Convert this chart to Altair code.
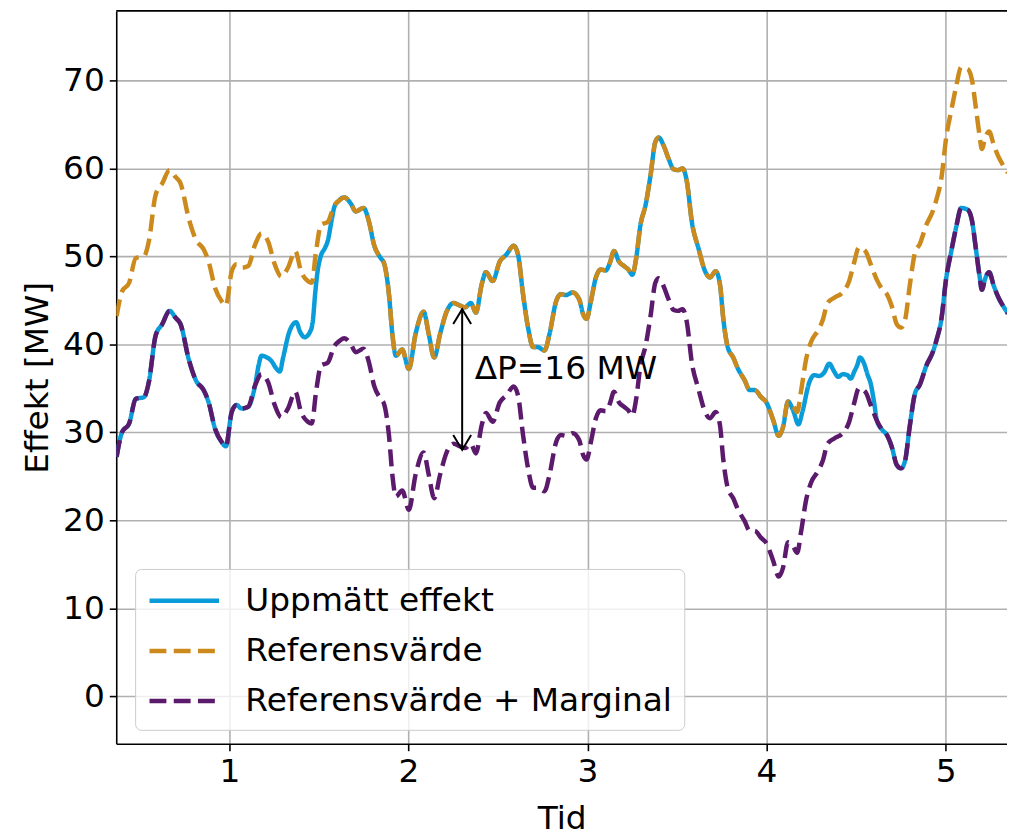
import altair as alt
import pandas as pd

# ---- data ----
t_ref = [0.37, 0.40, 0.44, 0.477, 0.523, 0.55, 0.588, 0.625, 0.666, 0.70, 0.727, 0.773, 0.813, 0.856,
         0.884, 0.92, 0.957, 0.98, 1.013, 1.04, 1.068, 1.105, 1.143, 1.179, 1.216, 1.253, 1.29, 1.327,
         1.368, 1.40, 1.438, 1.46, 1.484, 1.512, 1.549, 1.586, 1.61, 1.642, 1.678, 1.706, 1.749, 1.78,
         1.808, 1.845, 1.864, 1.891, 1.91, 1.93, 1.965, 2.002, 2.04, 2.085, 2.113, 2.144, 2.177, 2.215,
         2.252, 2.288, 2.316, 2.348, 2.377, 2.409, 2.433, 2.47, 2.51, 2.547, 2.588, 2.612, 2.64, 2.668,
         2.696, 2.72, 2.76, 2.788, 2.825, 2.852, 2.88, 2.917, 2.954, 2.976, 2.995, 3.019, 3.047, 3.074,
         3.102, 3.124, 3.148, 3.176, 3.204, 3.228, 3.25, 3.272, 3.296, 3.324, 3.352, 3.379, 3.398, 3.425,
         3.453, 3.481, 3.505, 3.531, 3.555, 3.583, 3.62, 3.657, 3.684, 3.716, 3.74, 3.758, 3.783, 3.814,
         3.841, 3.878, 3.906, 3.934, 3.97, 3.999, 4.037, 4.068, 4.092, 4.12, 4.147, 4.171, 4.193, 4.221,
         4.249, 4.285, 4.313, 4.341, 4.378, 4.424, 4.46, 4.488, 4.516, 4.552, 4.58, 4.617, 4.645, 4.672,
         4.70, 4.727, 4.751, 4.773, 4.80, 4.829, 4.856, 4.893, 4.93, 4.948, 4.976, 5.004, 5.031, 5.059,
         5.087, 5.123, 5.147, 5.169, 5.188, 5.203, 5.22, 5.243, 5.27, 5.298, 5.326, 5.348]

referens = [43.2, 46.0, 47.0, 49.8, 50.0, 51.7, 57.0, 58.3, 59.8, 59.0, 58.3, 54.3, 51.9, 50.8,
            49.4, 46.4, 44.9, 44.4, 48.3, 49.1, 48.7, 48.9, 51.3, 52.6, 51.7, 49.1, 47.7, 48.7,
            50.6, 48.3, 47.2, 47.0, 50.6, 53.6, 53.9, 55.8, 56.3, 56.7, 56.0, 55.1, 55.5, 53.9,
            51.3, 49.8, 49.2, 45.7, 41.2, 38.7, 39.4, 37.2, 41.2, 43.7, 41.2, 38.5, 41.2, 43.8,
            44.7, 44.4, 44.2, 44.7, 43.6, 46.8, 48.2, 47.2, 49.4, 50.2, 51.2, 50.2, 45.7, 41.9,
            39.7, 39.7, 39.3, 41.2, 44.9, 45.7, 45.6, 45.9, 45.1, 43.4, 42.9, 44.9, 47.6, 48.5,
            48.4, 49.2, 50.6, 49.4, 48.9, 48.5, 47.9, 49.8, 53.6, 55.8, 59.2, 63.0, 63.5, 62.6,
            61.1, 59.9, 59.8, 60.0, 58.5, 53.9, 50.9, 48.3, 47.6, 48.3, 46.8, 43.0, 39.7, 38.5,
            37.2, 35.9, 34.8, 34.8, 34.0, 33.4, 31.4, 29.6, 30.6, 33.5, 33.1, 32.3, 34.7, 38.3,
            40.3, 41.5, 42.7, 44.7, 45.3, 45.9, 47.1, 49.2, 51.0, 50.6, 49.2, 47.3, 46.3, 45.7,
            44.3, 42.3, 41.9, 42.7, 46.7, 50.4, 51.4, 53.6, 55.2, 56.4, 58.8, 63.6, 66.5, 69.3,
            71.5, 71.3, 70.1, 66.9, 64.0, 62.2, 63.4, 64.2, 62.6, 61.2, 60.2, 59.5]

marginal = [27.2, 30.0, 31.0, 33.8, 34.0, 35.7, 41.0, 42.3, 43.8, 43.0, 42.3, 38.3, 35.9, 34.8,
            33.4, 30.4, 28.9, 28.4, 32.3, 33.1, 32.7, 32.9, 35.3, 36.6, 35.7, 33.1, 31.7, 32.7,
            34.6, 32.3, 31.2, 31.0, 34.6, 37.6, 37.9, 39.8, 40.3, 40.7, 40.0, 39.1, 39.5, 37.9,
            35.3, 33.8, 33.2, 29.7, 25.2, 22.7, 23.4, 21.2, 25.2, 27.7, 25.2, 22.5, 25.2, 27.8,
            28.7, 28.4, 28.2, 28.7, 27.6, 30.8, 32.2, 31.2, 33.4, 34.2, 35.2, 34.2, 29.7, 25.9,
            23.7, 23.7, 23.3, 25.2, 28.9, 29.7, 29.6, 29.9, 29.1, 27.4, 26.9, 28.9, 31.6, 32.5,
            32.4, 33.2, 34.6, 33.4, 32.9, 32.5, 31.9, 33.8, 37.6, 39.8, 43.2, 47.0, 47.5, 46.6,
            45.1, 43.9, 43.8, 44.0, 42.5, 37.9, 34.9, 32.3, 31.6, 32.3, 30.8, 27.0, 23.7, 22.5,
            21.2, 19.9, 18.8, 18.8, 18.0, 17.4, 15.4, 13.6, 14.6, 17.5, 17.1, 16.3, 18.7, 22.3,
            24.3, 25.5, 26.7, 28.7, 29.3, 29.9, 31.1, 33.2, 35.0, 34.6, 33.2, 31.3, 30.3, 29.7,
            28.3, 26.3, 25.9, 26.7, 30.7, 34.4, 35.4, 37.6, 39.2, 40.4, 42.8, 47.6, 50.5, 53.3,
            55.5, 55.3, 54.1, 50.9, 48.0, 46.2, 47.4, 48.2, 46.6, 45.2, 44.2, 43.5]

t_upp = [0.37, 0.40, 0.44, 0.477, 0.523, 0.55, 0.588, 0.625, 0.666, 0.70, 0.727, 0.773, 0.813, 0.856,
         0.884, 0.92, 0.957, 0.98, 1.013, 1.04, 1.068, 1.105, 1.143,
         1.165, 1.179, 1.21, 1.235, 1.26, 1.281, 1.30, 1.336, 1.373, 1.395, 1.42, 1.45, 1.465, 1.48,
         1.494, 1.51, 1.535, 1.55, 1.57, 1.586,
         1.61, 1.642, 1.678, 1.706, 1.749, 1.78, 1.808, 1.845, 1.864, 1.891, 1.91, 1.93, 1.965, 2.002,
         2.04, 2.085, 2.113, 2.144, 2.177, 2.215, 2.252, 2.288, 2.316, 2.348, 2.377, 2.409, 2.433, 2.47,
         2.51, 2.547, 2.588, 2.612, 2.64, 2.668, 2.696, 2.72, 2.76, 2.788, 2.825, 2.852, 2.88, 2.917,
         2.954, 2.976, 2.995, 3.019, 3.047, 3.074, 3.102, 3.124, 3.148, 3.176, 3.204, 3.228, 3.25, 3.272,
         3.296, 3.324, 3.352, 3.379, 3.398, 3.425, 3.453, 3.481, 3.505, 3.531, 3.555, 3.583, 3.62, 3.657,
         3.684, 3.716, 3.74, 3.758, 3.783, 3.814, 3.841, 3.878, 3.906, 3.934, 3.97, 3.999, 4.037, 4.068,
         4.092, 4.12,
         4.15, 4.178, 4.20, 4.239, 4.267, 4.294, 4.322, 4.35, 4.378, 4.40, 4.425, 4.451, 4.47, 4.49,
         4.506, 4.522, 4.543, 4.565, 4.581, 4.60,
         4.617, 4.645, 4.672, 4.70, 4.727, 4.751, 4.773, 4.80, 4.829, 4.856, 4.893, 4.93, 4.948, 4.976,
         5.004, 5.031, 5.059, 5.087, 5.123, 5.147, 5.169, 5.188, 5.203, 5.22, 5.243, 5.27, 5.298, 5.326,
         5.348]

uppmatt = [27.2, 30.0, 31.0, 33.8, 34.0, 35.7, 41.0, 42.3, 43.8, 43.0, 42.3, 38.3, 35.9, 34.8,
           33.4, 30.4, 28.9, 28.4, 32.3, 33.1, 32.7, 32.9, 35.3,
           37.8, 38.7, 38.5, 38.1, 37.3, 36.9, 38.5, 41.5, 42.5, 41.4, 40.8, 41.4, 42.5, 46.0,
           48.5, 50.0, 51.0, 51.8, 54.0, 55.6,
           56.3, 56.7, 56.0, 55.1, 55.5, 53.9, 51.3, 49.8, 49.2, 45.7, 41.2, 38.7, 39.4, 37.2,
           41.2, 43.7, 41.2, 38.5, 41.2, 43.8, 44.7, 44.4, 44.2, 44.7, 43.6, 46.8, 48.2, 47.2,
           49.4, 50.2, 51.2, 50.2, 45.7, 41.9, 39.7, 39.7, 39.3, 41.2, 44.9, 45.7, 45.6, 45.9,
           45.1, 43.4, 42.9, 44.9, 47.6, 48.5, 48.4, 49.2, 50.6, 49.4, 48.9, 48.5, 47.9, 49.8,
           53.6, 55.8, 59.2, 63.0, 63.5, 62.6, 61.1, 59.9, 59.8, 60.0, 58.5, 53.9, 50.9, 48.3,
           47.6, 48.3, 46.8, 43.0, 39.7, 38.5, 37.2, 35.9, 34.8, 34.8, 34.0, 33.4, 31.4, 29.6,
           30.6, 33.5,
           32.4, 30.9, 32.3, 35.7, 36.5, 36.4, 36.8, 37.8, 36.9, 36.3, 36.6, 36.5, 36.1, 36.9,
           37.6, 38.5, 37.9, 36.5, 35.6, 33.5,
           31.3, 30.3, 29.7, 28.3, 26.3, 25.9, 26.7, 30.7, 34.4, 35.4, 37.6, 39.2, 40.4, 42.8,
           47.6, 50.5, 53.3, 55.5, 55.3, 54.1, 50.9, 48.0, 46.2, 47.4, 48.2, 46.6, 45.2, 44.2,
           43.5]

serier = ["Uppmätt effekt", "Referensvärde", "Referensvärde + Marginal"]
farger = ["#0a9cd8", "#cc8a1d", "#5b1a6b"]

x_ticks = [1, 2, 3, 4, 5]
y_ticks = [0, 10, 20, 30, 40, 50, 60, 70]
x_domain = [0.368, 5.343]
y_domain = [-5.4, 77.9]

# annotation (double arrow + text)
pil_t = [2.3]
pil_topp = [44.0]
pil_botten = [28.0]
text_t = [2.37]
text_v = [37.2]
text_label = ["ΔP=16 MW"]

# ---- build tables ----
rows = []
for t, v in zip(t_upp, uppmatt):
    rows.append({"Tid": t, "Effekt": v, "Serie": serier[0]})
for t, v in zip(t_ref, referens):
    rows.append({"Tid": t, "Effekt": v, "Serie": serier[1]})
for t, v in zip(t_ref, marginal):
    rows.append({"Tid": t, "Effekt": v, "Serie": serier[2]})
df = pd.DataFrame(rows)

pil_df = pd.DataFrame({"t": pil_t, "topp": pil_topp, "botten": pil_botten})
text_df = pd.DataFrame({"t": text_t, "v": text_v, "label": text_label})

FONT = "DejaVu Sans"
FS = 33
LW = 4.5
DASH = [17, 7.4]

xs = alt.Scale(domain=x_domain, nice=False, zero=False)
ys = alt.Scale(domain=y_domain, nice=False, zero=False)

x_axis = alt.Axis(values=x_ticks, format="d", title="Tid", grid=True)
y_axis = alt.Axis(values=y_ticks, format="d", title="Effekt [MW]", grid=True)

leg = alt.Legend(
    title=None, orient="none", legendX=19, legendY=562,
    fillColor="rgba(255,255,255,0.8)", strokeColor="#cccccc", cornerRadius=6,
    padding=12, labelFontSize=FS, labelFont=FONT, labelColor="black",
    symbolType="M-1,0L3,0", symbolSize=1225, symbolStrokeWidth=LW,
    labelOffset=59, rowPadding=13.5, labelLimit=0,
)
color = alt.Color("Serie:N", scale=alt.Scale(domain=serier, range=farger), legend=leg)
dash = alt.StrokeDash("Serie:N",
                      scale=alt.Scale(domain=serier, range=[[1, 0], DASH, DASH]),
                      legend=leg)


def X(field):
    return alt.X(field, scale=xs, axis=x_axis)


def Y(field):
    return alt.Y(field, scale=ys, axis=y_axis)


def linje(namn):
    return (
        alt.Chart(df)
        .transform_filter(alt.datum.Serie == namn)
        .mark_line(strokeWidth=LW, interpolate="monotone", clip=True)
        .encode(x=X("Tid:Q"), y=Y("Effekt:Q"), color=color, strokeDash=dash)
    )


# top spine of the frame at the upper end of the y domain
topp_ram = alt.Chart(pil_df).mark_rule(color="black", strokeWidth=1.6).encode(
    y=alt.Y(datum=y_domain[1], scale=ys, axis=y_axis)
)

pil = alt.Chart(pil_df).mark_rule(color="black", strokeWidth=2).encode(
    x=X("t:Q"), y=Y("topp:Q"), y2="botten:Q"
)
spets_upp = alt.Chart(pil_df).mark_point(
    shape="M-0.6,1L0,0L0.6,1", filled=False, size=900, strokeWidth=2, color="black", opacity=1
).encode(x=X("t:Q"), y=Y("topp:Q"))
spets_ned = alt.Chart(pil_df).mark_point(
    shape="M-0.6,-1L0,0L0.6,-1", filled=False, size=900, strokeWidth=2, color="black", opacity=1
).encode(x=X("t:Q"), y=Y("botten:Q"))

text = alt.Chart(text_df).mark_text(
    align="left", baseline="middle", font=FONT, fontSize=FS, color="black"
).encode(x=X("t:Q"), y=Y("v:Q"), text="label:N")

chart = (
    alt.layer(linje(serier[0]), linje(serier[1]), linje(serier[2]),
              pil, spets_upp, spets_ned, text, topp_ram)
    .properties(
        width=897, height=738,
        autosize=alt.AutoSizeParams(type="none"),
        padding={"left": 109, "top": 0, "right": 0, "bottom": 90},
    )
    .configure_view(stroke=None)
    .configure_axis(
        labelFont=FONT, labelFontSize=FS, labelColor="black",
        titleFont=FONT, titleFontSize=FS, titleColor="black", titleFontWeight="normal",
        tickColor="black", tickSize=7, tickWidth=1.6,
        domainColor="black", domainWidth=1.6,
        gridColor="#b0b0b0", gridWidth=1.6, labelPadding=5,
    )
    .configure_axisX(titlePadding=14)
    .configure_axisY(titlePadding=8)
)

chart.save("out.html", embed_options={"renderer": "svg", "actions": False})
